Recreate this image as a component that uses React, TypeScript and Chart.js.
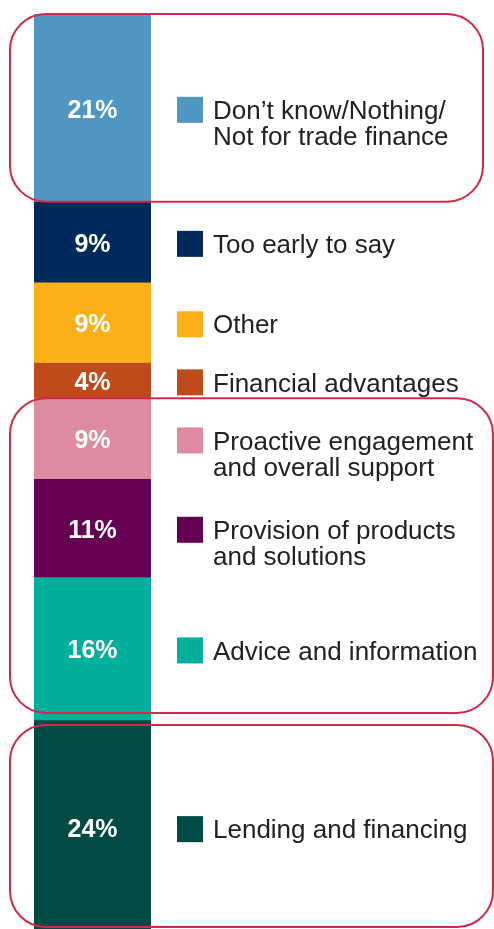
import React, { useEffect, useRef } from "react";
import { Chart, registerables } from "chart.js";

Chart.register(...registerables);

const categories = [
  "Don’t know/Nothing/\nNot for trade finance",
  "Too early to say",
  "Other",
  "Financial advantages",
  "Proactive engagement\nand overall support",
  "Provision of products\nand solutions",
  "Advice and information",
  "Lending and financing",
];
const values = [21, 9, 9, 4, 9, 11, 16, 24];
const colors = [
  "#4f97c1",
  "#002a5c",
  "#fbb017",
  "#bf4a1a",
  "#de8aa1",
  "#660052",
  "#00b09c",
  "#004c45",
];
// groups of segments outlined by rounded boxes (first index, last index)
const highlightGroups: [number, number][] = [
  [0, 0],
  [4, 6],
  [7, 7],
];

const FONT = '"Liberation Sans", Arial, sans-serif';

const overlayPlugin = {
  id: "overlay",
  afterDatasetsDraw(chart: any) {
    const ctx = chart.ctx;
    const area = chart.chartArea;
    const yScale = chart.scales.y;
    ctx.save();
    chart.data.datasets.forEach((ds: any, i: number) => {
      const el = chart.getDatasetMeta(i).data[0] as any;
      const cy = (el.y + el.base) / 2;
      // value label
      ctx.fillStyle = "#ffffff";
      ctx.font = `bold 25px ${FONT}`;
      ctx.textAlign = "center";
      ctx.textBaseline = "middle";
      ctx.fillText(`${ds.data[0]}%`, el.x, Math.min(cy, area.bottom - 10) + 3);
      // legend square + text
      const sq = 26;
      const sx = 177;
      ctx.fillStyle = ds.backgroundColor;
      ctx.fillRect(sx, cy + 2 - sq / 2, sq, sq);
      ctx.fillStyle = "#222222";
      ctx.font = `26px ${FONT}`;
      ctx.textAlign = "left";
      const lines = String(ds.label).split("\n");
      lines.forEach((ln: string, k: number) => {
        ctx.fillText(ln, 213, cy + 4 + k * 26);
      });
    });
    // rounded highlight boxes
    const cum: number[] = [0];
    values.forEach((v, i) => cum.push(cum[i] + v));
    ctx.strokeStyle = "#d4284b";
    ctx.lineWidth = 2;
    highlightGroups.forEach(([a, b], gi) => {
      let top = yScale.getPixelForValue(cum[a]);
      let bottom = yScale.getPixelForValue(cum[b + 1]);
      if (gi === 1) bottom -= 7;
      if (gi === 2) top += 5;
      bottom = Math.min(bottom, area.bottom - 2);
      top = Math.max(top, area.top);
      const left = 10;
      const right = gi === 0 ? 483 : 493;
      ctx.beginPath();
      (ctx as any).roundRect(left, top, right - left, bottom - top, 36);
      ctx.stroke();
    });
    ctx.restore();
  },
};

export default function App() {
  const ref = useRef<HTMLCanvasElement | null>(null);
  useEffect(() => {
    if (!ref.current) return;
    const chart = new Chart(ref.current, {
      type: "bar",
      data: {
        labels: [""],
        datasets: categories.map((c, i) => ({
          label: c,
          data: [values[i]],
          backgroundColor: colors[i],
          borderWidth: 0,
          barPercentage: 1,
          categoryPercentage: 1,
        })),
      },
      options: {
        responsive: false,
        animation: false,
        devicePixelRatio: 1,
        layout: { padding: { left: 34, right: 343, top: 14, bottom: 0 } },
        scales: {
          x: { stacked: true, display: false },
          y: { stacked: true, display: false, min: 0, max: 102.4, reverse: true },
        },
        plugins: { legend: { display: false }, tooltip: { enabled: false } },
      },
      plugins: [overlayPlugin],
    } as any);
    return () => chart.destroy();
  }, []);
  return (
    <div style={{ position: "absolute", left: 0, top: 0, width: 494, height: 929, background: "#fff" }}>
      <canvas ref={ref} width={494} height={929} style={{ display: "block", width: 494, height: 929 }} />
    </div>
  );
}
